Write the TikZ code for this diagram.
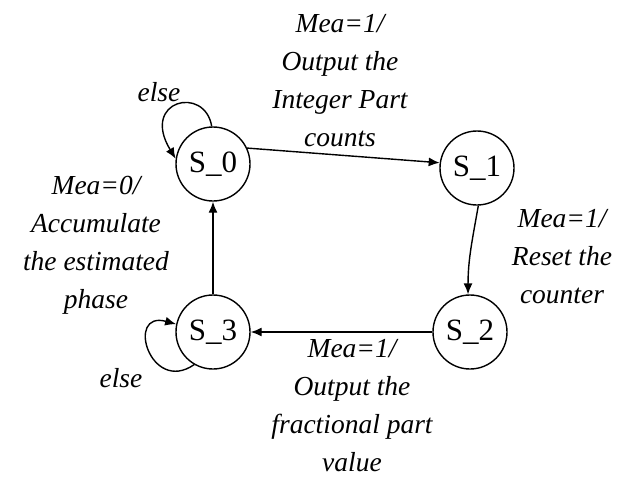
\documentclass[tikz,border=0pt]{standalone}
\usepackage{fontspec}
\setmainfont{Liberation Serif}
\usetikzlibrary{arrows.meta}
\tikzset{
  state/.style={circle, draw, line width=1.4pt, minimum size=74pt, inner sep=0pt,
    font=\fontsize{31}{31}\selectfont},
  lbl/.style={align=center, inner sep=0pt, font=\fontsize{27.5}{38}\selectfont\itshape},
  trans/.style={line width=1.4pt, -{Latex[length=11pt,width=9pt]}}
}
\begin{document}
\begin{tikzpicture}[x=1pt, y=-1pt]
            \useasboundingbox (0,0) rectangle (618,477);
            % states
            \node[state] (s0) at (213,164) {S\_0};
            \node[state] (s1) at (477,168) {S\_1};
            \node[state] (s2) at (470,332) {S\_2};
            \node[state] (s3) at (213,332) {S\_3};
            % transitions
            \draw[trans] (s0.25) -- (s1.172);
            \draw[trans] (s1.-88) to[out=-100, in=90] (s2.93);
            \draw[trans] (s2.west) -- (s3.east);
            \draw[trans] (s3.north) -- (s0.south);
            \draw[trans] (s0.92) .. controls (205,85) and (140,100) .. (s0.172);
            \draw[trans] (s3.240) .. controls (150,395) and (125,310) .. (s3.168);
            % labels
            \node[lbl] (l01) at (340,81) {Mea=1/\\Output the\\Integer Part\\counts};
            \node[lbl] (l12) at (562,257) {Mea=1/\\Reset the\\counter};
            \node[lbl] (l23) at (352,406) {Mea=1/\\Output the\\fractional part\\value};
            \node[lbl] (l30) at (96,245) {Mea=0/\\Accumulate\\the estimated\\phase};
            \node[lbl] (e0) at (159,92) {else};
            \node[lbl] (e3) at (121,378) {else};
\end{tikzpicture}
\end{document}
